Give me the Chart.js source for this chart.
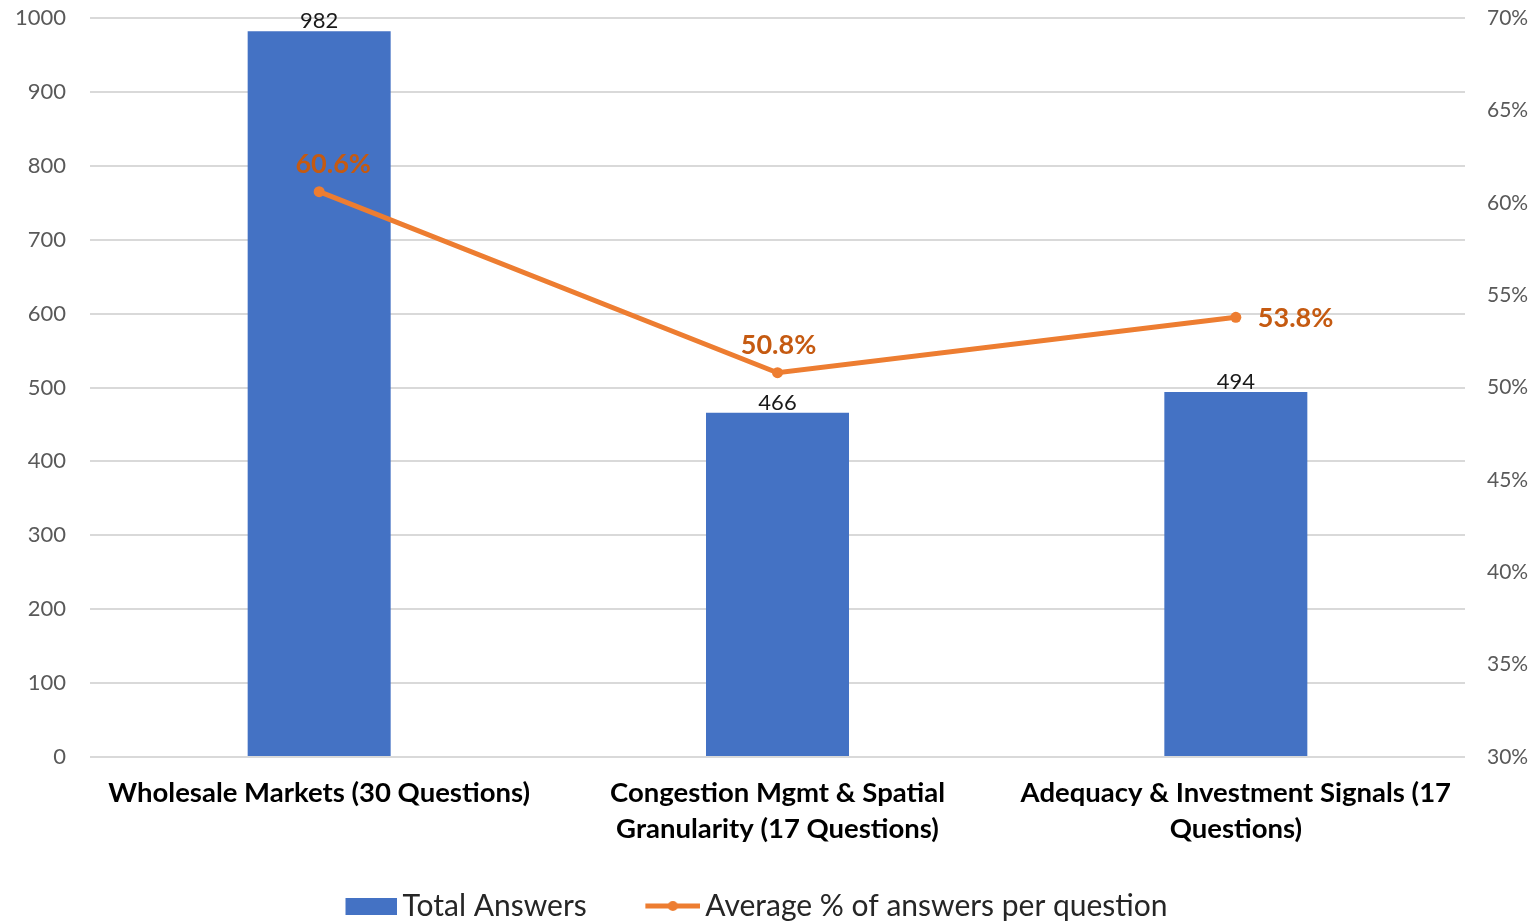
<!DOCTYPE html>
<html>
<head>
<meta charset="utf-8">
<script src="https://cdn.jsdelivr.net/npm/chart.js@4.4.1/dist/chart.umd.min.js"></script>
<style>
  html, body { margin: 0; padding: 0; background: #ffffff; }
  #wrap { width: 1537px; height: 921px; }
</style>
</head>
<body>
<div id="wrap"><canvas id="chart" width="1537" height="921"></canvas></div>
<script>
// Survey categories (wrapped onto two lines where needed)
const categories = [
  ['Wholesale Markets (30 Questions)'],
  ['Congestion Mgmt & Spatial', 'Granularity (17 Questions)'],
  ['Adequacy & Investment Signals (17', 'Questions)']
];
const totalAnswers = [982, 466, 494];
const avgPercent = [60.6, 50.8, 53.8];
const countTicks = { min: 0, max: 1000, step: 100 };
const percentTicks = { min: 30, max: 70, step: 5 };

const FONT = 'Lato, "Open Sans", sans-serif';
const BAR_COLOR = '#4472C4';
const LINE_COLOR = '#ED7D31';
const LINE_LABEL_COLOR = '#C55A11';
// spacing after each legend entry's text
const LEGEND_GAPS = ['\u2003\u2009  ', '\u2003\u2009 '];

// Legend swatches: a filled block for the bars, a line with a dot for the series line.
// The canvas is wider than the legend box so the swatch sits close to its text.
function makeSwatch(kind) {
  const c = document.createElement('canvas');
  c.width = 72; c.height = 18;
  const g = c.getContext('2d');
  if (kind === 'bar') {
    g.fillStyle = BAR_COLOR;
    g.fillRect(20, 1, 52, 17);
  } else {
    g.strokeStyle = LINE_COLOR;
    g.lineWidth = 5;
    g.beginPath(); g.moveTo(17, 9); g.lineTo(72, 9); g.stroke();
    g.fillStyle = LINE_COLOR;
    g.beginPath(); g.arc(44.5, 9, 5, 0, Math.PI * 2); g.fill();
  }
  return c;
}
const swatches = [makeSwatch('bar'), makeSwatch('line')];

// Value labels drawn next to bars and line points
const valueLabels = {
  id: 'valueLabels',
  afterDatasetsDraw(chart) {
    const ctx = chart.ctx;
    ctx.save();
    chart.data.datasets.forEach((ds, i) => {
      const meta = chart.getDatasetMeta(i);
      meta.data.forEach((el, j) => {
        const v = ds.data[j];
        if (ds.type === 'bar') {
          ctx.font = '22px ' + FONT;
          ctx.fillStyle = '#1a1a1a';
          ctx.textAlign = 'center';
          ctx.textBaseline = 'alphabetic';
          ctx.fillText(String(v), el.x, el.y - 3);
        } else {
          ctx.font = 'bold 27px ' + FONT;
          ctx.fillStyle = LINE_LABEL_COLOR;
          const txt = v.toFixed(1) + '%';
          const place = ds.labelPlacement[j];
          ctx.textBaseline = 'middle';
          if (place === 'right') {
            ctx.textAlign = 'left';
            ctx.fillText(txt, el.x + 22, el.y + 1);
          } else {
            ctx.textAlign = 'center';
            const dx = place === 'top-right' ? 14 : 1;
            ctx.fillText(txt, el.x + dx, el.y - 27);
          }
        }
      });
    });
    ctx.restore();
  }
};

new Chart(document.getElementById('chart'), {
  data: {
    labels: categories,
    datasets: [
      {
        type: 'bar',
        label: 'Total Answers',
        data: totalAnswers,
        backgroundColor: BAR_COLOR,
        yAxisID: 'y',
        categoryPercentage: 1,
        barPercentage: 0.312,
        order: 2
      },
      {
        type: 'line',
        label: 'Average % of answers per question',
        data: avgPercent,
        borderColor: LINE_COLOR,
        backgroundColor: LINE_COLOR,
        borderWidth: 5,
        pointRadius: 5.5,
        pointBorderWidth: 0,
        pointBackgroundColor: LINE_COLOR,
        tension: 0,
        yAxisID: 'y1',
        order: 1,
        labelPlacement: ['top-right', 'top', 'right']
      }
    ]
  },
  options: {
    responsive: false,
    animation: false,
    layout: { padding: { top: 18, bottom: 0, left: 0, right: 0 } },
    plugins: {
      tooltip: { enabled: false },
      legend: {
        position: 'bottom',
        maxHeight: 40,
        labels: {
          font: { family: FONT, size: 30 },
          color: '#262626',
          usePointStyle: true,
          pointStyleWidth: 52,
          boxHeight: 18,
          padding: 10,
          sort: (a, b) => a.datasetIndex - b.datasetIndex,
          generateLabels(chart) {
            const items = Chart.defaults.plugins.legend.labels.generateLabels(chart);
            items.forEach(it => {
              it.pointStyle = swatches[it.datasetIndex];
              it.text = it.text + LEGEND_GAPS[it.datasetIndex];
            });
            return items;
          }
        }
      }
    },
    scales: {
      x: {
        grid: { display: false },
        border: { display: false },
        ticks: {
          font: { family: FONT, size: 27.5, weight: 'bold', lineHeight: 36 / 27.5 },
          color: '#000000',
          padding: 10,
          maxRotation: 0,
          autoSkip: false
        },
        afterFit(scale) { scale.height = 124; }
      },
      y: {
        position: 'left',
        min: countTicks.min,
        max: countTicks.max,
        grid: {
          color: '#d9d9d9', lineWidth: 2,
          drawTicks: true, tickLength: 24, tickColor: 'rgba(0,0,0,0)'
        },
        border: { display: false },
        ticks: {
          stepSize: countTicks.step,
          font: { family: FONT, size: 22 },
          color: '#595959',
          padding: 0,
          callback: v => String(v)
        },
        afterFit(scale) { scale.width = 90; }
      },
      y1: {
        position: 'right',
        min: percentTicks.min,
        max: percentTicks.max,
        grid: {
          display: true, drawOnChartArea: false,
          drawTicks: true, tickLength: 22, tickColor: 'rgba(0,0,0,0)'
        },
        border: { display: false },
        ticks: {
          stepSize: percentTicks.step,
          font: { family: FONT, size: 21 },
          color: '#595959',
          padding: 0,
          callback: v => v + '%'
        },
        afterFit(scale) { scale.width = 72; }
      }
    }
  },
  plugins: [valueLabels]
});
</script>
</body>
</html>
